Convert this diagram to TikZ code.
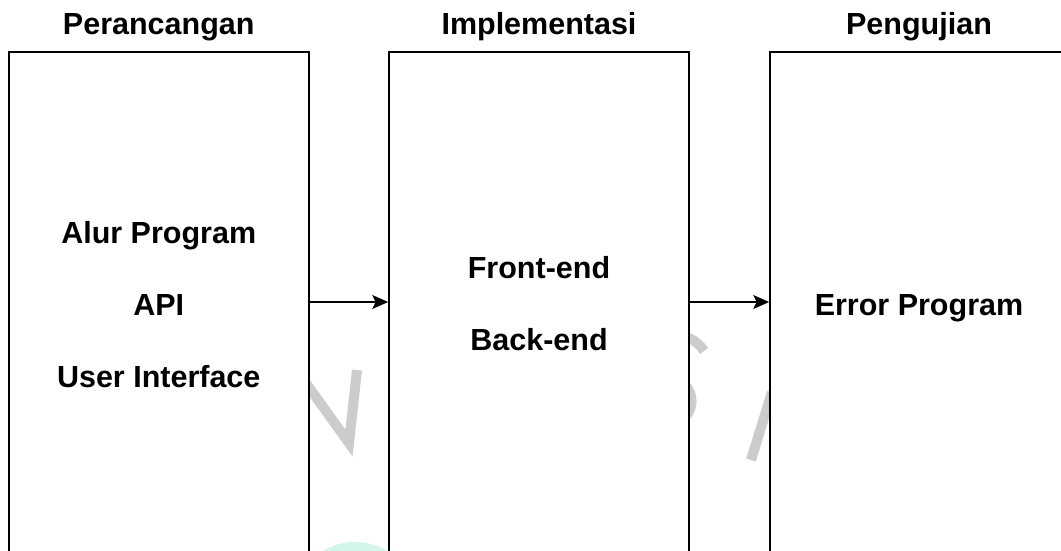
\documentclass[tikz,border=0pt]{standalone}
\usepackage{fontspec}
\setmainfont{Liberation Sans}
\usetikzlibrary{arrows.meta}

\definecolor{wmgray}{HTML}{CCCCCC}
\definecolor{wmmint}{HTML}{D4F6EA}

\tikzset{
  phase/.style={draw=black, line width=1.6pt, fill=white, rectangle,
    minimum width=300pt, minimum height=508pt, inner sep=0pt},
  title/.style={font=\bfseries\fontsize{30.5}{33}\selectfont, anchor=base, inner sep=0pt},
  item/.style={font=\bfseries\fontsize{30.5}{33}\selectfont, anchor=base, inner sep=0pt},
  flow/.style={line width=1.6pt, -{Stealth[length=16pt, width=14pt, inset=3.5pt]}},
  wm/.style={draw=wmgray, line width=10pt}
}

\begin{document}
\begin{tikzpicture}[x=1pt, y=-1pt]
  \useasboundingbox (0,0) rectangle (1061,551);
  \clip (0,0) rectangle (1061,551);

  % faint background mark behind the boxes
  \fill[wmmint] (355,605) circle (63);
  \draw[wm, line join=miter] (295,368) -- (349,443) -- (357,370);
  \draw[wm] (704,351) .. controls (690,328) and (650,330) .. (648,356)
            .. controls (646,378) and (668,378) .. (672,379)
            .. controls (697,382) and (699,418) .. (672,424);
  \draw[wm] (772,392) -- (751,460);

  % phase boxes
  \node[phase] (p) at (158.75,306) {};
  \node[phase] (i) at (539,306) {};
  \node[phase] (u) at (920,306) {};

  \coordinate (row) at (0,302);

  % headings
  \node[title] (tp) at (158.75,35) {Perancangan};
  \node[title] (ti) at (539,35) {Implementasi};
  \node[title] (tu) at (919,35) {Pengujian};

  % contents
  \node[item] (p1) at (158.75,243) {Alur Program};
  \node[item] (p2) at (158.75,315) {API};
  \node[item] (p3) at (158.75,387) {User Interface};
  \node[item] (i1) at (539,278) {Front-end};
  \node[item] (i2) at (539,350) {Back-end};
  \node[item] (u1) at (919,315) {Error Program};

  % flow between phases
  \draw[flow] (p.east |- row) -- (i.west |- row);
  \draw[flow] (i.east |- row) -- (u.west |- row);
\end{tikzpicture}
\end{document}
